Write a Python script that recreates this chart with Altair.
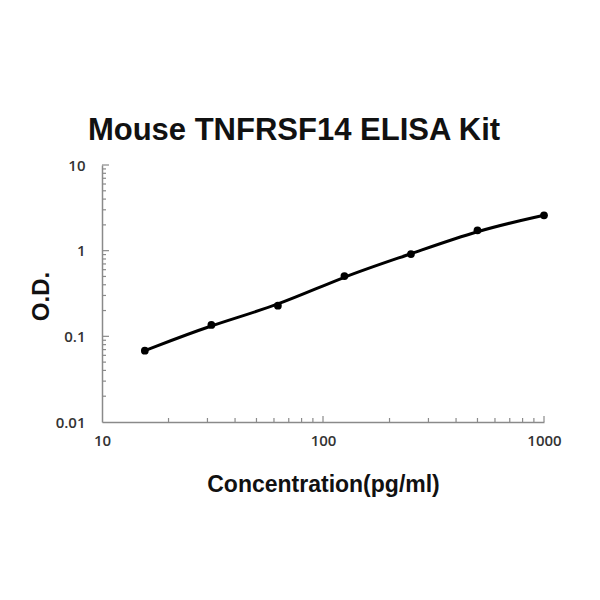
import altair as alt
import pandas as pd

# Data
conc = [15.625, 31.25, 62.5, 125, 250, 500, 1000]
od = [0.068, 0.136, 0.228, 0.506, 0.914, 1.73, 2.59]

x_major = [10, 100, 1000]
x_minor = [20, 30, 40, 50, 60, 70, 80, 90, 200, 300, 400, 500, 600, 700, 800, 900]
y_major = [0.01, 0.1, 1, 10]
y_minor = [0.02, 0.03, 0.04, 0.05, 0.06, 0.07, 0.08, 0.09,
           0.2, 0.3, 0.4, 0.5, 0.6, 0.7, 0.8, 0.9,
           2, 3, 4, 5, 6, 7, 8, 9]

title_text = "Mouse TNFRSF14 ELISA Kit"
x_title = "Concentration(pg/ml)"
y_title = "O.D."

W, H = 442, 257
AXIS_COLOR = "#8a8a8a"

df = pd.DataFrame({"conc": conc, "od": od})
xscale = alt.Scale(type="log", domain=[10, 1000], nice=False)
yscale = alt.Scale(type="log", domain=[0.01, 10], nice=False)

xaxis = alt.Axis(
    values=x_major, format="~g", ticks=False, tickSize=0, grid=False,
    domainColor=AXIS_COLOR, domainWidth=1.5, labelFlush=False,
    labelFont="Open Sans", labelFontSize=15, labelFontWeight=600,
    labelColor="#333333", labelPadding=11, labelBaseline="top",
    title=x_title, titleFont="Liberation Sans", titleFontSize=23,
    titleFontWeight="bold", titleColor="#111111",
    titleX=W / 2, titleY=69, titleBaseline="alphabetic", titleAlign="center",
)
yaxis = alt.Axis(
    values=y_major, format="~g", ticks=False, tickSize=0, grid=False,
    domainColor=AXIS_COLOR, domainWidth=1.5, labelFlush=False,
    labelFont="Open Sans", labelFontSize=15, labelFontWeight=600,
    labelColor="#333333", labelPadding=17,
    title=y_title, titleFont="Liberation Sans", titleFontSize=24,
    titleFontWeight="bold", titleColor="#111111",
    titleAngle=270, titleX=-54, titleY=131, titleBaseline="alphabetic",
    titleAlign="center",
)

line = alt.Chart(df).mark_line(
    color="black", strokeWidth=3, interpolate="basis"
).encode(
    x=alt.X("conc:Q", scale=xscale, axis=xaxis),
    y=alt.Y("od:Q", scale=yscale, axis=yaxis),
)
pts = alt.Chart(df).mark_circle(color="black", size=60, opacity=1).encode(
    x=alt.X("conc:Q", scale=xscale),
    y=alt.Y("od:Q", scale=yscale),
)

ymin_df = pd.DataFrame({"v": y_minor})
ymaj_df = pd.DataFrame({"v": y_major[1:]})
xmin_df = pd.DataFrame({"v": x_minor})
xmaj_df = pd.DataFrame({"v": x_major[1:]})

ytick_minor = alt.Chart(ymin_df).mark_rule(color=AXIS_COLOR, strokeWidth=1.2).encode(
    y=alt.Y("v:Q", scale=yscale), x=alt.value(0), x2=alt.value(4)
)
ytick_major = alt.Chart(ymaj_df).mark_rule(color=AXIS_COLOR, strokeWidth=1.2).encode(
    y=alt.Y("v:Q", scale=yscale), x=alt.value(0), x2=alt.value(7)
)
xtick_minor = alt.Chart(xmin_df).mark_rule(color=AXIS_COLOR, strokeWidth=1.2).encode(
    x=alt.X("v:Q", scale=xscale), y=alt.value(H), y2=alt.value(H - 4)
)
xtick_major = alt.Chart(xmaj_df).mark_rule(color=AXIS_COLOR, strokeWidth=1.2).encode(
    x=alt.X("v:Q", scale=xscale), y=alt.value(H), y2=alt.value(H - 6)
)

chart = alt.layer(
    line, ytick_minor, ytick_major, xtick_minor, xtick_major, pts
).properties(
    width=W, height=H,
    title=alt.TitleParams(
        title_text, font="Liberation Sans", fontSize=31, fontWeight="bold",
        color="#111111", anchor="middle", frame="group", dx=-29, dy=35,
        offset=22, baseline="alphabetic",
    ),
    autosize=alt.AutoSizeParams(type="none"),
    padding={"left": 94, "top": 157, "right": 48, "bottom": 170},
).configure(background="white").configure_view(strokeWidth=0, stroke="transparent")

chart.save("out.html", embed_options={"renderer": "svg", "actions": False})
